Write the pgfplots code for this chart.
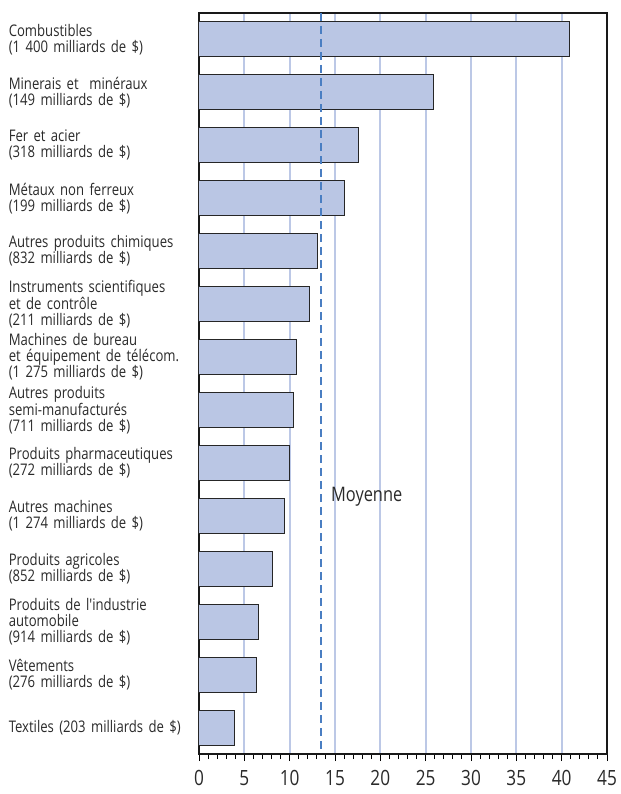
\documentclass[border=0pt]{standalone}
\usepackage{fontspec}
\setmainfont[FakeStretch=0.82, Ligatures=TeXOff]{Open Sans}
\usepackage{pgfplots}
\pgfplotsset{compat=1.18}
\definecolor{barblue}{HTML}{BAC6E4}
\definecolor{gridblue}{HTML}{BCC8E6}
\definecolor{meanblue}{HTML}{4A7EC2}
\definecolor{txt}{HTML}{2A2A2A}
\begin{document}
\begin{tikzpicture}
\begin{axis}[
  name=ax,
  scale only axis,
  width=408pt, height=741pt,
  xmin=0, xmax=45,
  ymin=-0.5, ymax=13.5,
  y dir=reverse,
  xtick={0,5,...,45},
  minor x tick num=4,
  tick align=outside,
  xtick pos=bottom,
  ytick pos=left,
  major tick length=7pt,
  minor tick length=5pt,
  every tick/.style={black, line width=0.9pt},
  ytick style={draw=none},
  ytick={0,...,13},
  yticklabels={
    {Combustibles\\(1 400 milliards de \$)},
    {Minerais et\ \ minéraux\\(149 milliards de \$)},
    {Fer et acier\\(318 milliards de \$)},
    {Métaux non ferreux\\(199 milliards de \$)},
    {Autres produits chimiques\\(832 milliards de \$)},
    {Instruments scientifiques\\et de contrôle\\(211 milliards de \$)},
    {Machines de bureau\\et équipement de télécom.\\(1 275 milliards de \$)},
    {Autres produits\\semi-manufacturés\\(711 milliards de \$)},
    {Produits pharmaceutiques\\(272 milliards de \$)},
    {Autres machines\\(1 274 milliards de \$)},
    {Produits agricoles\\(852 milliards de \$)},
    {Produits de l'industrie\\automobile\\(914 milliards de \$)},
    {Vêtements\\(276 milliards de \$)},
    {Textiles (203 milliards de \$)}
  },
  yticklabel style={font=\fontsize{16}{16}\selectfont, text=txt, align=left, text width=175pt, anchor=east, inner sep=0pt, xshift=-8pt},
  xticklabel style={font=\fontsize{21}{22}\selectfont, text=txt, yshift=-6pt},
  /pgf/number format/assume math mode=true,
  xmajorgrids,
  major grid style={gridblue, line width=1.8pt},
  axis line style={black!90, line width=1.6pt},
  clip=false,
]
\addplot[xbar, bar width=35pt, fill=barblue, draw=black!85, line width=1pt]
  coordinates {
    (40.9,0) (25.9,1) (17.55,2) (16.1,3) (13.07,4) (12.15,5) (10.76,6)
    (10.46,7) (9.99,8) (9.4,9) (8.08,10) (6.54,11) (6.36,12) (3.9,13)
  };
\addplot[meanblue, line width=1.6pt, dash pattern=on 8pt off 5pt]
  coordinates {(13.47,-0.5) (13.47,13.5)};
\node[anchor=west, inner sep=0pt, text=txt, font=\fontsize{20}{22}\selectfont] at (axis cs:14.55,8.64) {Moyenne};
\end{axis}
\path ([shift={(-199pt,-40pt)}]ax.south west) rectangle ([shift={(11pt,13pt)}]ax.north east);
\end{tikzpicture}
\end{document}
